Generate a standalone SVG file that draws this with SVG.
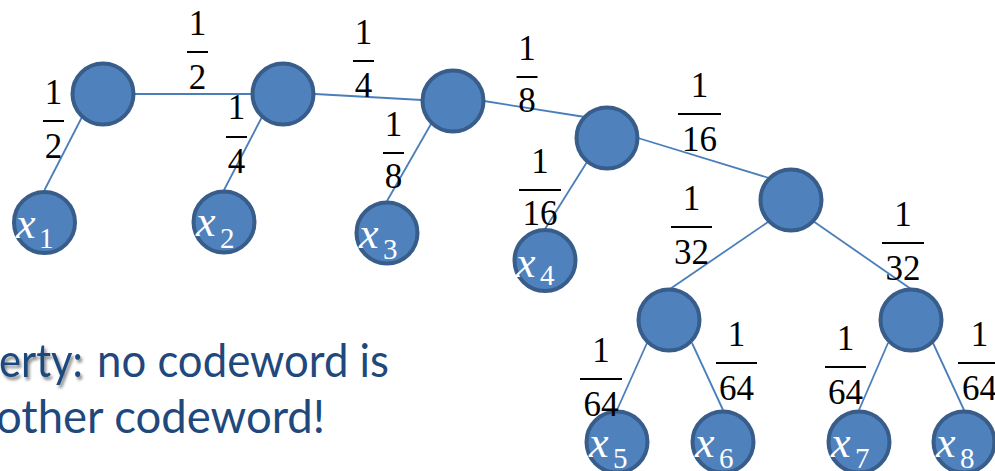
<svg xmlns="http://www.w3.org/2000/svg" width="995" height="471" viewBox="0 0 995 471">
  <style>
    .edge { stroke: #4a7ebb; stroke-width: 1.8; fill: none; }
    .node { fill: #4f81bd; stroke: #385d8a; stroke-width: 4; }
    .frac { font-family: "Liberation Serif", "Times New Roman", serif; font-size: 35px; fill: #000; text-anchor: middle; }
    .bar { stroke: #000; stroke-width: 2; }
    .sym { font-family: "Liberation Serif", "Times New Roman", serif; fill: #fff; }
    .sym .v { font-style: italic; font-size: 44px; }
    .sym .s { font-size: 29px; }
    .note { font-family: Lato, "Open Sans", sans-serif; font-size: 46px; fill: #1f497d; }
  </style>
  <defs>
    <filter id="shadow" x="-10%" y="-20%" width="130%" height="150%">
      <feDropShadow dx="2" dy="3" stdDeviation="1.6" flood-color="#000" flood-opacity="0.45"/>
    </filter>
  </defs>

  <!-- connectors -->
  <g id="connectors">
    <line class="edge" x1="135" y1="94" x2="252" y2="94"/>
    <line class="edge" x1="82" y1="117" x2="44.5" y2="190"/>
    <line class="edge" x1="263" y1="115" x2="224" y2="190"/>
    <line class="edge" x1="315" y1="94" x2="422" y2="100"/>
    <line class="edge" x1="431" y1="124" x2="387" y2="201"/>
    <line class="edge" x1="484" y1="101" x2="585" y2="117"/>
    <line class="edge" x1="587" y1="162" x2="545" y2="229"/>
    <line class="edge" x1="638" y1="138" x2="769" y2="178"/>
    <line class="edge" x1="768" y1="222" x2="670" y2="289"/>
    <line class="edge" x1="813" y1="221" x2="911" y2="289"/>
    <line class="edge" x1="647" y1="343" x2="617" y2="410"/>
    <line class="edge" x1="692" y1="343" x2="723" y2="410"/>
    <line class="edge" x1="888" y1="343" x2="859" y2="410"/>
    <line class="edge" x1="933" y1="343" x2="964" y2="410"/>
  </g>

  <!-- internal nodes -->
  <g id="n-a"><circle class="node" cx="103" cy="94" r="30.5"/></g>
  <g id="n-b"><circle class="node" cx="283" cy="94" r="30.5"/></g>
  <g id="n-c"><circle class="node" cx="453" cy="101" r="30.5"/></g>
  <g id="n-d"><circle class="node" cx="607" cy="138" r="30.5"/></g>
  <g id="n-e"><circle class="node" cx="791" cy="200" r="30.5"/></g>
  <g id="n-f"><circle class="node" cx="669" cy="320" r="30.5"/></g>
  <g id="n-g"><circle class="node" cx="911" cy="320" r="30.5"/></g>

  <!-- leaves -->
  <g id="leaf-x1">
    <circle class="node" cx="44.5" cy="222.5" r="30.5"/>
    <text class="sym"><tspan class="v" x="16" y="238">x</tspan><tspan class="s" x="39" y="248">1</tspan></text>
  </g>
  <g id="leaf-x2">
    <circle class="node" cx="224" cy="222" r="30.5"/>
    <text class="sym"><tspan class="v" x="196" y="236">x</tspan><tspan class="s" x="220" y="248">2</tspan></text>
  </g>
  <g id="leaf-x3">
    <circle class="node" cx="387" cy="233" r="30.5"/>
    <text class="sym"><tspan class="v" x="359" y="248">x</tspan><tspan class="s" x="383" y="259">3</tspan></text>
  </g>
  <g id="leaf-x4">
    <circle class="node" cx="545" cy="260.5" r="30.5"/>
    <text class="sym"><tspan class="v" x="516" y="277">x</tspan><tspan class="s" x="540" y="285">4</tspan></text>
  </g>
  <g id="leaf-x5">
    <circle class="node" cx="617" cy="442" r="30.5"/>
    <text class="sym"><tspan class="v" x="589" y="457">x</tspan><tspan class="s" x="613" y="468">5</tspan></text>
  </g>
  <g id="leaf-x6">
    <circle class="node" cx="723" cy="442" r="30.5"/>
    <text class="sym"><tspan class="v" x="695" y="457">x</tspan><tspan class="s" x="719" y="468">6</tspan></text>
  </g>
  <g id="leaf-x7">
    <circle class="node" cx="859" cy="442" r="30.5"/>
    <text class="sym"><tspan class="v" x="831" y="457">x</tspan><tspan class="s" x="855" y="468">7</tspan></text>
  </g>
  <g id="leaf-x8">
    <circle class="node" cx="964" cy="442" r="30.5"/>
    <text class="sym"><tspan class="v" x="936" y="457">x</tspan><tspan class="s" x="960" y="468">8</tspan></text>
  </g>

  <!-- edge weights -->
  <g id="weights">
    <g transform="translate(53.5,121)"><text class="frac" y="-17">1</text><line class="bar" x1="-10.5" x2="10.5"/><text class="frac" y="37">2</text></g>
    <g transform="translate(197.5,52)"><text class="frac" y="-17">1</text><line class="bar" x1="-10.5" x2="10.5"/><text class="frac" y="37">2</text></g>
    <g transform="translate(236.5,137)"><text class="frac" y="-18">1</text><line class="bar" x1="-10.5" x2="10.5"/><text class="frac" y="36">4</text></g>
    <g transform="translate(363.5,61)"><text class="frac" y="-17">1</text><line class="bar" x1="-10.5" x2="10.5"/><text class="frac" y="36">4</text></g>
    <g transform="translate(393.5,153)"><text class="frac" y="-17">1</text><line class="bar" x1="-10.5" x2="10.5"/><text class="frac" y="35">8</text></g>
    <g transform="translate(527,77)"><text class="frac" y="-17">1</text><line class="bar" x1="-10.5" x2="10.5"/><text class="frac" y="35">8</text></g>
    <g transform="translate(540,190)"><text class="frac" y="-17">1</text><line class="bar" x1="-21" x2="21"/><text class="frac" y="35">16</text></g>
    <g transform="translate(699.5,114)"><text class="frac" y="-17">1</text><line class="bar" x1="-21.5" x2="21.5"/><text class="frac" y="37">16</text></g>
    <g transform="translate(691.5,227)"><text class="frac" y="-17">1</text><line class="bar" x1="-20.5" x2="20.5"/><text class="frac" y="37">32</text></g>
    <g transform="translate(903,243)"><text class="frac" y="-17">1</text><line class="bar" x1="-21" x2="21"/><text class="frac" y="37">32</text></g>
    <g transform="translate(601,379)"><text class="frac" y="-17">1</text><line class="bar" x1="-21" x2="21"/><text class="frac" y="37">64</text></g>
    <g transform="translate(736.5,363)"><text class="frac" y="-17">1</text><line class="bar" x1="-20.5" x2="20.5"/><text class="frac" y="37">64</text></g>
    <g transform="translate(845.5,367)"><text class="frac" y="-17">1</text><line class="bar" x1="-20.5" x2="20.5"/><text class="frac" y="37">64</text></g>
    <g transform="translate(979.5,363)"><text class="frac" y="-17">1</text><line class="bar" x1="-21.5" x2="21.5"/><text class="frac" y="37">64</text></g>
  </g>

  <!-- caption -->
  <g id="caption">
    <text class="note" x="-1" y="377" textLength="84" lengthAdjust="spacingAndGlyphs" filter="url(#shadow)">erty:</text>
    <text class="note" x="97" y="377" textLength="292" lengthAdjust="spacingAndGlyphs">no codeword is</text>
    <text class="note" x="-4" y="433" textLength="329" lengthAdjust="spacingAndGlyphs">other codeword!</text>
  </g>
</svg>
